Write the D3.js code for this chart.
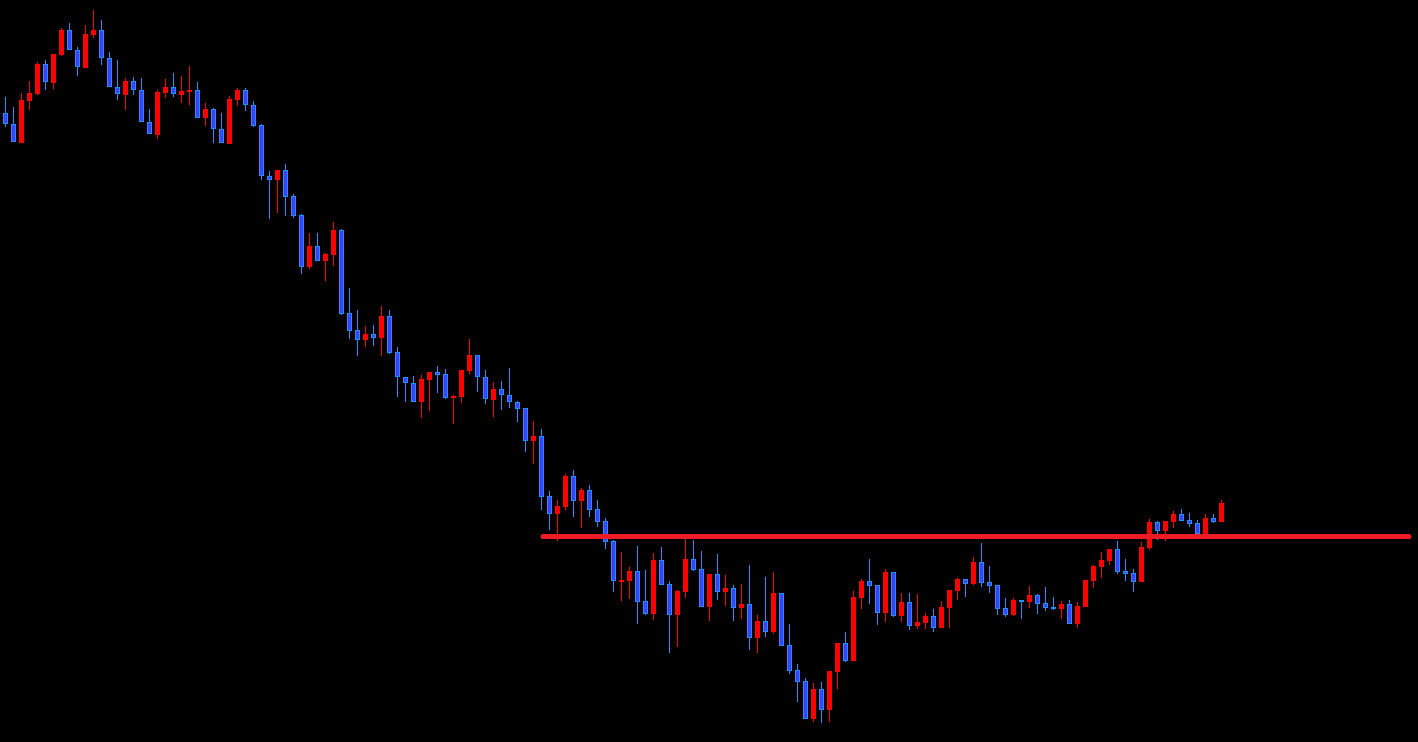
<!DOCTYPE html>
<html>
<head>
<meta charset="utf-8">
<script src="https://cdn.jsdelivr.net/npm/d3@7"></script>
<style>
html,body{margin:0;padding:0;background:#000;overflow:hidden;}
svg{display:block;}
</style>
</head>
<body>
<svg id="chart" width="1418" height="742"></svg>
<script>
// Candle data (price units), index = bar number
const opens = [887,876,857,899,906,936,917,945,970,950,932,965,970,942,913,905,919,910,878,865,907,913,905,908,910,882,891,871,856,900,910,895,875,824,820,830,804,785,733,754,739,745,770,687,670,660,666,662,684,648,623,617,598,620,628,626,602,603,629,645,623,600,611,605,598,592,559,564,504,486,493,524,499,510,491,479,459,419,419,429,399,386,440,416,385,408,441,431,393,426,408,412,392,396,362,379,368,407,355,330,319,281,311,290,328,357,339,402,419,415,387,428,384,398,374,377,384,372,392,409,421,416,438,418,415,392,385,400,398,405,397,393,391,396,376,393,419,433,439,451,429,427,418,452,478,469,478,486,480,477,465,482,478];
const highs = [903,893,907,919,938,940,946,972,977,953,975,990,980,948,940,922,923,922,891,910,921,927,924,934,918,897,892,887,904,912,912,899,876,829,830,836,806,786,767,767,747,778,771,712,690,674,675,694,690,653,623,624,625,628,634,631,605,630,661,645,630,618,619,632,599,592,579,571,509,500,526,530,512,515,500,482,460,448,433,454,430,447,453,419,410,461,460,449,426,446,425,415,416,435,385,423,428,407,376,336,322,317,318,329,357,368,409,421,441,415,431,428,407,407,406,387,391,399,410,422,421,443,457,434,415,402,402,400,414,406,413,403,399,400,398,420,435,448,451,459,441,431,458,481,479,479,489,491,487,480,486,486,500];
const lows  = [873,858,857,890,905,910,911,944,950,924,932,962,935,913,900,890,905,878,866,861,902,903,897,895,882,874,857,857,856,894,889,873,820,781,787,784,782,726,731,739,719,734,685,661,644,653,654,644,646,603,598,598,582,589,607,601,576,597,626,608,596,583,590,592,578,548,536,490,470,459,490,483,472,483,473,451,408,399,401,376,385,380,415,347,353,402,429,393,379,400,394,379,381,350,347,363,366,354,326,298,281,278,277,278,311,338,339,391,396,375,378,383,378,370,371,371,368,372,372,400,403,415,413,407,385,383,384,381,392,386,389,390,381,376,372,393,412,422,435,426,419,408,418,450,460,459,472,479,473,464,465,477,478];
const closes= [876,858,900,907,936,918,946,970,950,933,966,970,942,913,906,919,910,878,866,908,913,906,909,910,882,891,871,857,901,910,895,874,824,820,830,803,784,733,754,739,746,770,686,669,660,666,662,684,647,623,617,598,621,628,625,602,604,630,645,623,601,611,605,598,591,559,564,503,486,494,524,499,510,490,478,458,419,420,429,398,386,440,415,385,409,441,430,393,426,408,412,392,396,362,379,368,407,354,329,318,281,311,290,329,357,339,403,419,414,387,428,384,398,374,378,384,372,393,410,421,416,438,417,414,391,385,400,398,405,396,392,391,396,376,394,420,434,440,451,428,426,418,453,478,469,479,486,479,476,466,482,478,497];

// Horizontal support/resistance level
const levelPrice = 463.5;
const levelStartBar = 67;
const levelEndBar = 175.75;

const W = 1418, H = 742;
const svg = d3.select("#chart");
svg.append("rect").attr("width", W).attr("height", H).attr("fill", "#000");

const data = opens.map((o, i) => ({i, o, h: highs[i], l: lows[i], c: closes[i]}));

const x = d3.scaleLinear().domain([0, 152]).range([5, 1221]);
const y = d3.scaleLinear().domain([1000, 258]).range([0, 742]);

const upCol = "#FF0000";
const dnFill = "#4040FF";
const dnEdge = "#1E90FF";

const g = svg.append("g");
const candle = g.selectAll("g.c").data(data).join("g").attr("class", "c");

// wicks
candle.append("rect")
  .attr("x", d => Math.round(x(d.i)))
  .attr("y", d => Math.round(y(d.h)))
  .attr("width", 1)
  .attr("height", d => Math.max(1, Math.round(y(d.l)) - Math.round(y(d.h))))
  .attr("fill", d => d.c >= d.o ? upCol : dnEdge);

// bodies
candle.each(function(d) {
  const sel = d3.select(this);
  const cx = Math.round(x(d.i));
  const top = Math.round(y(Math.max(d.o, d.c)));
  const bot = Math.round(y(Math.min(d.o, d.c)));
  const hgt = Math.max(2, bot - top);
  if (d.c >= d.o) {
    sel.append("rect")
      .attr("x", cx - 2).attr("y", top)
      .attr("width", 5).attr("height", hgt)
      .attr("fill", upCol);
  } else {
    sel.append("rect")
      .attr("x", cx - 1.5).attr("y", top + 0.5)
      .attr("width", 4).attr("height", hgt - 1)
      .attr("fill", dnFill)
      .attr("stroke", dnEdge).attr("stroke-width", 1);
  }
});

// level line
svg.append("line")
  .attr("x1", x(levelStartBar) + 2).attr("x2", x(levelEndBar) - 2)
  .attr("y1", y(levelPrice)).attr("y2", y(levelPrice))
  .attr("stroke", "#ED1C24")
  .attr("stroke-width", 5)
  .attr("stroke-linecap", "round");
</script>
</body>
</html>
